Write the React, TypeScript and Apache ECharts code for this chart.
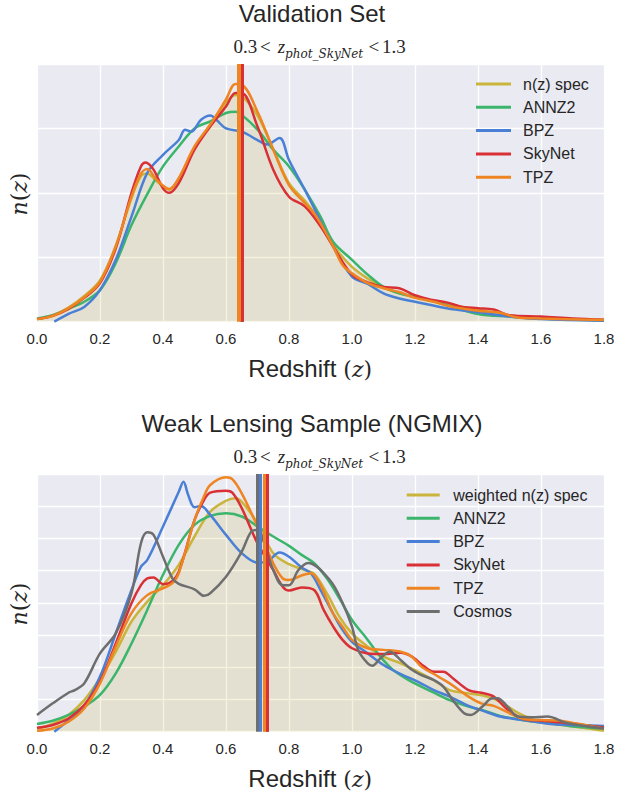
import React, { useEffect, useRef } from "react";
import * as echarts from "echarts";

// ---------- data ----------
const X_TICKS = [0, 0.2, 0.4, 0.6, 0.8, 1.0, 1.2, 1.4, 1.6, 1.8];

const TOP_NAMES = ["n(z) spec", "ANNZ2", "BPZ", "SkyNet", "TPZ"];
const BOT_NAMES = ["weighted n(z) spec", "ANNZ2", "BPZ", "SkyNet", "TPZ", "Cosmos"];

const TOP_COLORS = ["#c9b43c", "#3bb56b", "#4a7fd6", "#d93036", "#ee8422"];
const BOT_COLORS = ["#c9b43c", "#3bb56b", "#4a7fd6", "#d93036", "#ee8422", "#6e6e6e"];

// mean redshift markers
const TOP_MEANS = [0.645, 0.645, 0.645, 0.651, 0.64];
const BOT_MEANS = [0.723, 0.735, 0.707, 0.729, 0.7175, 0.699];

// Validation set
const TOP_SPEC = [[0,0.04],[0.05,0.1],[0.1,0.22],[0.15,0.4],[0.2,0.64],[0.25,1.18],[0.3,1.92],[0.33,2.26],[0.35,2.3],[0.38,2.18],[0.42,2.05],[0.45,2.22],[0.5,2.7],[0.55,3.05],[0.6,3.4],[0.63,3.52],[0.65,3.5],[0.7,3.2],[0.75,2.68],[0.8,2.15],[0.85,1.88],[0.9,1.55],[0.95,1.13],[1.0,0.85],[1.05,0.67],[1.1,0.53],[1.15,0.44],[1.2,0.38],[1.3,0.27],[1.4,0.19],[1.5,0.09],[1.6,0.05],[1.7,0.04],[1.8,0.03]];
const TOP_ANNZ2 = [[0,0.05],[0.05,0.1],[0.1,0.2],[0.15,0.31],[0.2,0.49],[0.25,0.91],[0.3,1.5],[0.35,1.98],[0.4,2.41],[0.45,2.72],[0.5,3.0],[0.55,3.11],[0.6,3.24],[0.63,3.26],[0.65,3.21],[0.7,2.98],[0.75,2.67],[0.8,2.41],[0.85,2.05],[0.9,1.63],[0.94,1.24],[1.0,0.96],[1.05,0.73],[1.1,0.54],[1.15,0.44],[1.2,0.39],[1.3,0.26],[1.4,0.12],[1.5,0.08],[1.6,0.05],[1.8,0.02]];
const TOP_BPZ = [[0.055,0],[0.1,0.12],[0.15,0.23],[0.2,0.49],[0.25,0.96],[0.3,1.63],[0.35,2.31],[0.4,2.59],[0.45,2.82],[0.47,2.98],[0.49,2.95],[0.52,3.13],[0.55,3.2],[0.57,3.13],[0.6,3.0],[0.65,2.95],[0.7,2.82],[0.73,2.75],[0.77,2.85],[0.8,2.51],[0.85,2.05],[0.88,1.76],[0.94,1.17],[1.0,0.7],[1.05,0.585],[1.1,0.44],[1.15,0.36],[1.2,0.31],[1.3,0.21],[1.4,0.145],[1.5,0.08],[1.6,0.04],[1.8,0.015]];
const TOP_SKYNET = [[0,0.04],[0.05,0.09],[0.1,0.2],[0.15,0.37],[0.2,0.6],[0.25,1.14],[0.3,2.0],[0.33,2.41],[0.345,2.47],[0.37,2.36],[0.4,2.07],[0.42,2.0],[0.45,2.15],[0.5,2.67],[0.55,3.03],[0.6,3.34],[0.63,3.55],[0.65,3.55],[0.7,3.03],[0.75,2.36],[0.8,1.94],[0.85,1.79],[0.9,1.48],[0.94,1.17],[1.0,0.73],[1.05,0.61],[1.1,0.54],[1.15,0.52],[1.2,0.41],[1.25,0.34],[1.3,0.3],[1.35,0.23],[1.4,0.21],[1.45,0.19],[1.5,0.1],[1.6,0.08],[1.7,0.05],[1.8,0.03]];
const TOP_TPZ = [[0,0.04],[0.05,0.09],[0.1,0.21],[0.15,0.38],[0.2,0.62],[0.25,1.17],[0.3,1.94],[0.33,2.3],[0.35,2.37],[0.38,2.2],[0.42,2.06],[0.45,2.23],[0.5,2.72],[0.55,3.06],[0.6,3.45],[0.63,3.69],[0.65,3.68],[0.7,3.26],[0.75,2.67],[0.8,2.12],[0.85,1.84],[0.88,1.68],[0.9,1.53],[0.94,1.17],[0.97,0.88],[1.0,0.75],[1.05,0.6],[1.1,0.52],[1.15,0.46],[1.2,0.37],[1.26,0.31],[1.31,0.24],[1.4,0.17],[1.47,0.14],[1.52,0.07],[1.6,0.05],[1.8,0.026]];

// Weak lensing sample
const BOT_SPEC = [[0,0.1],[0.05,0.24],[0.1,0.52],[0.15,0.98],[0.2,1.66],[0.25,2.48],[0.3,3.42],[0.35,4.04],[0.4,4.55],[0.45,5.18],[0.5,6.06],[0.55,6.83],[0.6,7.17],[0.63,7.25],[0.65,7.14],[0.7,6.47],[0.75,5.54],[0.8,5.2],[0.85,5.02],[0.88,4.9],[0.92,4.3],[0.96,3.57],[1.0,3.05],[1.05,2.64],[1.1,2.33],[1.155,2.12],[1.21,1.86],[1.26,1.6],[1.31,1.29],[1.37,1.19],[1.43,1.09],[1.47,0.93],[1.53,0.57],[1.58,0.36],[1.63,0.26],[1.69,0.18],[1.8,0.03]];
const BOT_ANNZ2 = [[0,0.24],[0.05,0.34],[0.1,0.52],[0.15,0.78],[0.2,1.14],[0.25,1.81],[0.3,2.74],[0.35,3.78],[0.4,4.87],[0.45,5.8],[0.5,6.42],[0.55,6.7],[0.6,6.78],[0.65,6.68],[0.7,6.37],[0.75,6.06],[0.8,5.77],[0.84,5.49],[0.88,5.23],[0.92,4.76],[0.96,4.14],[1.0,3.47],[1.05,2.85],[1.09,2.33],[1.13,1.92],[1.18,1.6],[1.22,1.4],[1.26,1.21],[1.31,0.98],[1.37,0.78],[1.42,0.65],[1.47,0.49],[1.53,0.38],[1.58,0.31],[1.63,0.26],[1.69,0.18],[1.8,0.09]];
const BOT_BPZ = [[0.055,0],[0.1,0.35],[0.15,0.8],[0.2,1.71],[0.25,3.05],[0.3,4.4],[0.33,5.12],[0.35,5.33],[0.4,6.37],[0.45,7.45],[0.465,7.76],[0.48,7.35],[0.5,6.97],[0.52,7.01],[0.55,6.73],[0.6,6.11],[0.65,5.54],[0.7,5.25],[0.73,5.28],[0.77,5.56],[0.8,5.43],[0.84,5.1],[0.87,4.91],[0.9,4.4],[0.94,3.67],[0.97,3.16],[1.0,2.79],[1.05,2.43],[1.1,2.07],[1.155,1.79],[1.21,1.55],[1.26,1.29],[1.31,1.09],[1.37,0.8],[1.41,0.67],[1.47,0.47],[1.53,0.38],[1.58,0.31],[1.63,0.24],[1.69,0.21],[1.8,0.18]];
const BOT_SKYNET = [[0,0.12],[0.05,0.21],[0.1,0.41],[0.15,0.83],[0.2,1.55],[0.25,2.74],[0.3,3.99],[0.33,4.55],[0.35,4.76],[0.37,4.79],[0.4,4.58],[0.42,4.61],[0.45,4.97],[0.5,6.57],[0.53,7.19],[0.55,7.42],[0.6,7.48],[0.62,7.42],[0.65,6.94],[0.7,5.85],[0.75,5.02],[0.78,4.5],[0.8,4.38],[0.84,4.48],[0.88,4.4],[0.91,3.78],[0.94,3.27],[0.97,2.85],[1.0,2.59],[1.05,2.43],[1.1,2.41],[1.155,2.45],[1.19,2.33],[1.23,2.02],[1.26,1.86],[1.29,1.86],[1.32,1.66],[1.37,1.29],[1.41,1.21],[1.45,1.09],[1.49,0.72],[1.54,0.41],[1.6,0.34],[1.64,0.31],[1.69,0.26],[1.8,0.13]];
const BOT_TPZ = [[0,0.03],[0.05,0.1],[0.1,0.31],[0.15,0.72],[0.2,1.5],[0.25,2.64],[0.3,3.68],[0.35,4.24],[0.4,4.45],[0.43,4.61],[0.45,4.92],[0.5,6.57],[0.53,7.3],[0.55,7.66],[0.6,7.9],[0.62,7.84],[0.65,7.4],[0.7,6.37],[0.75,5.23],[0.78,4.76],[0.8,4.71],[0.84,4.85],[0.87,4.92],[0.9,4.55],[0.94,3.67],[0.97,3.26],[1.0,2.85],[1.05,2.59],[1.1,2.54],[1.155,2.48],[1.19,2.33],[1.22,2.02],[1.26,1.79],[1.31,1.5],[1.37,1.09],[1.41,0.88],[1.45,0.8],[1.49,0.62],[1.54,0.41],[1.6,0.36],[1.66,0.34],[1.71,0.26],[1.8,0.09]];
const BOT_COSMOS = [[0,0.52],[0.05,0.88],[0.1,1.21],[0.12,1.29],[0.15,1.5],[0.2,2.43],[0.25,3.05],[0.3,4.3],[0.33,5.85],[0.35,6.19],[0.37,6.11],[0.4,5.43],[0.43,4.76],[0.45,4.59],[0.5,4.42],[0.53,4.22],[0.55,4.3],[0.6,4.81],[0.65,5.59],[0.68,6.21],[0.7,6.26],[0.72,5.9],[0.75,5.02],[0.78,4.55],[0.8,4.55],[0.83,5.02],[0.86,5.24],[0.93,4.7],[0.97,4.0],[1.0,3.26],[1.02,2.53],[1.05,2.12],[1.065,2.05],[1.09,2.28],[1.12,2.48],[1.155,2.22],[1.19,1.92],[1.22,1.76],[1.26,1.6],[1.29,1.4],[1.32,0.98],[1.356,0.57],[1.377,0.52],[1.414,0.78],[1.446,1.04],[1.462,1.04],[1.494,0.78],[1.526,0.47],[1.57,0.45],[1.62,0.47],[1.685,0.26],[1.8,0.1]];

const TOP_DATA = [TOP_SPEC, TOP_ANNZ2, TOP_BPZ, TOP_SKYNET, TOP_TPZ];
const BOT_DATA = [BOT_SPEC, BOT_ANNZ2, BOT_BPZ, BOT_SKYNET, BOT_TPZ, BOT_COSMOS];

// ---------- layout ----------
const W = 619;
const H = 794;
const GRID_LEFT = 37;
const GRID_W = 567;
const GRID_H = 257.7;
const TOP_Y = 64;
const OFFSET = 410;
const TEXT = "#262626";
const SANS = "Liberation Sans, Arial, sans-serif";

function buildSeries(names: string[], colors: string[], data: number[][][], means: number[], idx: number, markW: number) {
  return names.map((name, i) => ({
    type: "line",
    name,
    xAxisIndex: idx,
    yAxisIndex: idx,
    data: data[i],
    smooth: 0.35,
    showSymbol: false,
    symbol: "none",
    z: 2 + i * 0.01,
    lineStyle: { color: colors[i], width: 2.5 },
    itemStyle: { color: colors[i] },
    areaStyle: i === 0 ? { color: "rgba(201,180,60,0.25)", origin: "start" } : undefined,
    emphasis: { disabled: true },
    markLine: {
      silent: true,
      symbol: ["none", "none"],
      label: { show: false },
      emphasis: { disabled: true },
      lineStyle: { color: colors[i], width: markW, type: "solid", opacity: 1 },
      data: [{ xAxis: means[i] }],
    },
  }));
}

function subtitle(dy: number) {
  const base = 53.3 + dy;
  const serif = "Liberation Serif, Times New Roman, serif";
  const mk = (text: string, x: number, baseline: number, size: number, family: string, italic: boolean) => ({
    type: "text",
    x,
    y: baseline - 0.34 * size,
    silent: true,
    style: {
      text,
      fill: TEXT,
      fontSize: size,
      fontFamily: family,
      fontStyle: italic ? "italic" : "normal",
      align: "left",
      verticalAlign: "middle",
    },
  });
  return [
    mk("0.3", 233.5, base, 19, serif, false),
    mk("<", 260, base, 19, serif, false),
    mk("z", 277.8, base, 19, serif, true),
    mk("phot_SkyNet", 285, base + 4.7, 12, "DejaVu Serif, serif", true),
    mk("<", 368.5, base, 19, serif, false),
    mk("1.3", 382, base, 19, serif, false),
  ];
}

function labels(dy: number, title: string) {
  return [
    {
      type: "text",
      x: 312,
      y: 21.7 + dy - 0.35 * 24,
      silent: true,
      style: { text: title, fill: TEXT, fontSize: 24, fontFamily: SANS, align: "center", verticalAlign: "middle" },
    },
    ...subtitle(dy),
    {
      type: "text",
      x: 248.3,
      y: 377.3 + dy - 0.35 * 24,
      silent: true,
      style: { text: "Redshift", fill: TEXT, fontSize: 24, fontFamily: SANS, align: "left", verticalAlign: "middle" },
    },
    {
      type: "text",
      x: 343.3,
      y: 377.3 + dy - 0.35 * 22,
      silent: true,
      style: {
        text: "{r|(}{i|z}{r|)}",
        align: "left",
        verticalAlign: "middle",
        rich: {
          r: { fontSize: 22, fontFamily: "DejaVu Serif, serif", fill: TEXT },
          i: { fontSize: 22, fontFamily: "DejaVu Serif, serif", fontStyle: "italic", fill: TEXT },
        },
      },
    },
    {
      type: "text",
      x: 19,
      y: 194 + dy,
      rotation: Math.PI / 2,
      silent: true,
      style: {
        text: "{i|n}{r|(}{i|z}{r|)}",
        align: "center",
        verticalAlign: "middle",
        rich: {
          r: { fontSize: 22, fontFamily: "DejaVu Serif, serif", fill: TEXT },
          i: { fontSize: 22, fontFamily: "DejaVu Serif, serif", fontStyle: "italic", fill: TEXT },
        },
      },
    },
  ];
}

function xAxis(idx: number) {
  return {
    type: "value",
    gridIndex: idx,
    min: X_TICKS[0],
    max: X_TICKS[X_TICKS.length - 1],
    interval: 0.2,
    axisLine: { show: false },
    axisTick: { show: false },
    splitLine: { show: true, lineStyle: { color: "#ffffff", width: 1.3 } },
    axisLabel: {
      show: true,
      margin: 9,
      fontSize: 15,
      lineHeight: 16,
      color: TEXT,
      fontFamily: SANS,
      formatter: (v: number) => v.toFixed(1),
    },
  };
}

function yAxis(idx: number, max: number) {
  return {
    type: "value",
    gridIndex: idx,
    min: 0,
    max,
    interval: 1,
    axisLine: { show: false },
    axisTick: { show: false },
    axisLabel: { show: false },
    splitLine: { show: true, lineStyle: { color: "#ffffff", width: 1.3 } },
  };
}

function legend(names: string[], left: number, top: number, iw: number, padLeft: number) {
  return {
    data: names,
    orient: "vertical",
    left,
    top,
    padding: 0,
    itemWidth: iw,
    itemHeight: 3,
    itemGap: 5.3,
    icon: "rect",
    selectedMode: false,
    textStyle: { fontSize: 16, color: TEXT, fontFamily: SANS, lineHeight: 18, padding: [0, 0, 0, padLeft] },
  };
}

export default function App() {
  const ref = useRef<HTMLDivElement>(null);
  useEffect(() => {
    if (!ref.current) return;
    const chart = echarts.init(ref.current, null, { renderer: "svg" });
    chart.setOption({
      animation: false,
      backgroundColor: "#ffffff",
      grid: [
        { left: GRID_LEFT, top: TOP_Y, width: GRID_W, height: GRID_H, show: true, backgroundColor: "#eaeaf2", borderWidth: 0 },
        { left: GRID_LEFT, top: TOP_Y + OFFSET, width: GRID_W, height: GRID_H, show: true, backgroundColor: "#eaeaf2", borderWidth: 0 },
      ],
      xAxis: [xAxis(0), xAxis(1)],
      yAxis: [yAxis(0, 4), yAxis(1, 8)],
      legend: [legend(TOP_NAMES, 476, 75, 35, 7), legend(BOT_NAMES, 406.7, 486, 33, 8.5)],
      series: [
        ...buildSeries(TOP_NAMES, TOP_COLORS, TOP_DATA, TOP_MEANS, 0, 4),
        ...buildSeries(BOT_NAMES, BOT_COLORS, BOT_DATA, BOT_MEANS, 1, 3),
      ],
      graphic: [...labels(0, "Validation Set"), ...labels(OFFSET, "Weak Lensing Sample (NGMIX)")],
    });
    return () => chart.dispose();
  }, []);
  return <div ref={ref} style={{ position: "fixed", left: 0, top: 0, width: W, height: H }} />;
}
